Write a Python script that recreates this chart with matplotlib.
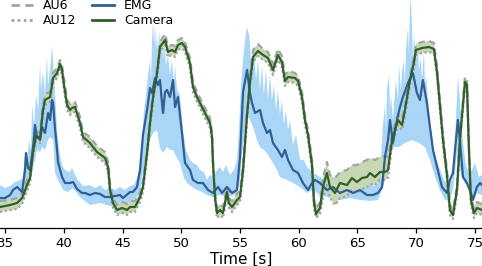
import numpy as np
import matplotlib
matplotlib.use("Agg")
import matplotlib.pyplot as plt
from matplotlib.lines import Line2D

# ---------------- data (time in s, signal in arbitrary units) ----------------
cam_t = [34.57, 35.43, 36.02, 36.45, 36.87, 37.13, 37.38, 37.64, 37.98, 38.23,
         38.40, 38.83, 39.09, 39.43, 39.68, 39.85, 40.02, 40.28, 40.53, 40.70,
         40.96, 41.38, 41.64, 42.23, 42.83, 43.51, 43.77, 43.94, 44.19, 44.53,
         44.96, 45.38, 45.64, 46.06, 46.49, 46.74, 47.09, 47.34, 47.60, 47.94,
         48.19, 48.62, 48.87, 49.21, 49.47, 49.72, 50.06, 50.32, 50.74, 51.00,
         51.34, 51.77, 52.19, 52.45, 52.62, 52.70, 52.87, 53.04, 53.30, 53.55,
         53.72, 53.89, 54.06, 54.32, 54.74, 55.00, 55.26, 55.60, 55.85, 56.11,
         56.53, 56.96, 57.38, 57.81, 58.23, 58.57, 58.83, 59.09, 59.68, 59.94,
         60.28, 60.53, 60.79, 61.13, 61.30, 61.47, 61.81, 62.06, 62.40, 62.66,
         63.09, 63.51, 64.11, 64.53, 64.96, 65.38, 65.81, 66.06, 66.49, 66.91,
         67.34, 67.60, 67.94, 68.19, 68.45, 68.79, 69.04, 69.47, 69.81, 69.98,
         70.49, 71.09, 71.51, 71.77, 72.02, 72.28, 72.62, 72.87, 73.13, 73.47,
         73.72, 74.15, 74.32, 74.49, 74.66, 74.91, 75.17, 75.60]
camera = [0.13, 0.15, 0.17, 0.22, 0.35, 0.42, 0.68, 0.84, 0.82, 1.10,
          1.20, 1.23, 1.42, 1.47, 1.56, 1.50, 1.35, 1.15, 1.10, 1.12,
          1.13, 0.97, 0.83, 0.77, 0.68, 0.62, 0.53, 0.30, 0.17, 0.10,
          0.12, 0.10, 0.13, 0.13, 0.23, 0.33, 0.67, 0.97, 1.23, 1.47,
          1.73, 1.80, 1.68, 1.70, 1.68, 1.75, 1.77, 1.73, 1.57, 1.33,
          1.23, 1.13, 1.03, 0.97, 0.83, 0.57, 0.23, 0.07, 0.10, 0.07,
          0.17, 0.28, 0.17, 0.13, 0.20, 0.23, 0.50, 1.05, 1.38, 1.63,
          1.69, 1.65, 1.62, 1.50, 1.65, 1.58, 1.39, 1.43, 1.42, 1.39,
          1.23, 1.00, 0.85, 0.55, 0.17, 0.06, 0.12, 0.33, 0.47, 0.33,
          0.27, 0.37, 0.35, 0.42, 0.38, 0.42, 0.43, 0.47, 0.43, 0.48,
          0.48, 0.50, 0.80, 0.90, 1.00, 0.95, 1.10, 1.40, 1.58, 1.70,
          1.72, 1.73, 1.71, 1.48, 1.15, 0.80, 0.45, 0.10, 0.05, 0.30,
          0.80, 1.38, 1.35, 0.70, 0.20, 0.07, 0.12, 0.10]
au6 = [0.19, 0.20, 0.22, 0.27, 0.40, 0.48, 0.73, 0.89, 0.87, 1.15,
       1.26, 1.28, 1.47, 1.52, 1.60, 1.55, 1.41, 1.20, 1.16, 1.17,
       1.18, 1.03, 0.88, 0.83, 0.74, 0.68, 0.58, 0.36, 0.22, 0.15,
       0.18, 0.16, 0.19, 0.19, 0.28, 0.38, 0.72, 1.02, 1.28, 1.52,
       1.78, 1.86, 1.74, 1.75, 1.74, 1.80, 1.82, 1.78, 1.62, 1.38,
       1.28, 1.18, 1.08, 1.02, 0.88, 0.62, 0.28, 0.12, 0.16, 0.13,
       0.22, 0.33, 0.22, 0.19, 0.26, 0.29, 0.56, 1.10, 1.44, 1.70,
       1.76, 1.71, 1.68, 1.56, 1.71, 1.64, 1.45, 1.49, 1.47, 1.44,
       1.28, 1.05, 0.90, 0.60, 0.22, 0.11, 0.18, 0.42, 0.58, 0.45,
       0.42, 0.48, 0.50, 0.55, 0.55, 0.58, 0.60, 0.62, 0.60, 0.63,
       0.64, 0.63, 0.86, 0.96, 1.05, 1.01, 1.16, 1.45, 1.63, 1.76,
       1.78, 1.79, 1.77, 1.54, 1.20, 0.85, 0.50, 0.15, 0.10, 0.35,
       0.85, 1.43, 1.40, 0.75, 0.25, 0.12, 0.18, 0.16]
au12 = [0.08, 0.10, 0.11, 0.16, 0.29, 0.37, 0.63, 0.79, 0.77, 1.05,
        1.15, 1.18, 1.37, 1.42, 1.51, 1.45, 1.30, 1.10, 1.05, 1.07,
        1.08, 0.92, 0.78, 0.72, 0.63, 0.57, 0.48, 0.25, 0.12, 0.05,
        0.07, 0.05, 0.08, 0.08, 0.18, 0.28, 0.62, 0.92, 1.18, 1.42,
        1.68, 1.75, 1.63, 1.65, 1.63, 1.70, 1.72, 1.68, 1.52, 1.28,
        1.18, 1.08, 0.98, 0.92, 0.78, 0.52, 0.18, 0.02, 0.05, 0.02,
        0.12, 0.23, 0.12, 0.08, 0.15, 0.18, 0.45, 1.00, 1.33, 1.58,
        1.64, 1.60, 1.57, 1.45, 1.60, 1.53, 1.34, 1.38, 1.37, 1.34,
        1.18, 0.95, 0.80, 0.50, 0.12, 0.02, 0.06, 0.22, 0.35, 0.22,
        0.15, 0.22, 0.24, 0.30, 0.27, 0.31, 0.33, 0.36, 0.35, 0.40,
        0.40, 0.42, 0.74, 0.85, 0.95, 0.90, 1.05, 1.35, 1.53, 1.65,
        1.67, 1.68, 1.66, 1.43, 1.10, 0.75, 0.40, 0.05, 0.01, 0.25,
        0.75, 1.33, 1.30, 0.65, 0.15, 0.02, 0.07, 0.05]

emg_t = [34.57, 35.00, 35.43, 35.68, 36.02, 36.28, 36.45, 36.70, 36.79, 36.96,
         37.13, 37.38, 37.55, 37.72, 37.98, 38.15, 38.40, 38.66, 38.83, 39.00,
         39.09, 39.26, 39.43, 39.51, 39.85, 40.11, 40.53, 40.79, 41.13, 41.55,
         41.81, 42.23, 42.66, 43.09, 43.51, 43.94, 44.36, 44.79, 45.04, 45.64,
         45.89, 46.23, 46.49, 46.74, 47.09, 47.34, 47.51, 47.77, 48.02, 48.19,
         48.36, 48.45, 48.62, 48.79, 49.04, 49.30, 49.47, 49.72, 50.06, 50.32,
         50.74, 51.00, 51.43, 51.85, 52.28, 52.70, 53.13, 53.47, 53.89, 54.32,
         54.74, 55.00, 55.17, 55.26, 55.60, 55.85, 56.02, 56.28, 56.70, 56.96,
         57.30, 57.55, 57.81, 58.23, 58.57, 58.83, 59.09, 59.51, 59.94, 60.36,
         60.79, 61.13, 61.38, 61.81, 62.40, 62.91, 63.51, 64.11, 64.62, 65.21,
         65.81, 66.32, 66.74, 67.09, 67.34, 67.60, 67.77, 68.02, 68.36, 68.62,
         68.87, 69.30, 69.72, 70.06, 70.32, 70.57, 70.91, 71.17, 71.43, 71.77,
         72.19, 72.62, 72.87, 73.13, 73.30, 73.47, 73.55, 73.72, 73.98, 74.32,
         74.57, 74.83, 75.17, 75.43, 75.60]
emg = [0.22, 0.22, 0.25, 0.30, 0.33, 0.30, 0.28, 0.50, 0.67, 0.52,
       0.50, 0.72, 0.95, 0.83, 0.80, 0.93, 0.87, 1.07, 1.00, 1.20,
       1.17, 0.90, 0.70, 0.58, 0.43, 0.37, 0.37, 0.38, 0.31, 0.27,
       0.27, 0.25, 0.27, 0.26, 0.23, 0.23, 0.24, 0.25, 0.22, 0.28,
       0.28, 0.33, 0.50, 0.85, 1.10, 1.32, 1.27, 1.42, 1.35, 1.40,
       1.17, 1.07, 1.28, 1.30, 1.23, 1.40, 1.13, 1.23, 0.87, 0.57,
       0.50, 0.40, 0.37, 0.37, 0.30, 0.27, 0.33, 0.27, 0.33, 0.27,
       0.30, 0.63, 1.05, 1.28, 1.50, 1.27, 1.17, 1.07, 1.10, 0.97,
       0.87, 0.90, 0.77, 0.70, 0.63, 0.70, 0.60, 0.50, 0.47, 0.37,
       0.30, 0.37, 0.40, 0.37, 0.30, 0.33, 0.27, 0.30, 0.27, 0.30,
       0.25, 0.25, 0.27, 0.33, 0.63, 0.80, 1.00, 0.77, 1.00, 1.13,
       1.23, 1.37, 1.47, 1.27, 1.20, 1.40, 1.17, 0.93, 0.70, 0.53,
       0.33, 0.27, 0.40, 0.47, 0.70, 0.90, 1.00, 0.80, 0.43, 0.37,
       0.30, 0.20, 0.33, 0.37, 0.35]

emg_hi_t = [34.57, 35.00, 35.43, 35.85, 36.28,
            36.53, 36.70, 36.87, 37.04, 37.21, 37.30, 37.47, 37.64, 37.81, 37.98,
            38.06, 38.23, 38.40, 38.57, 38.66, 38.83, 39.00, 39.17, 39.26, 39.43,
            39.60,
            39.85, 40.11, 40.53, 40.70, 40.96, 41.21, 41.64, 42.23, 42.66, 43.09,
            43.51, 43.94, 44.36, 44.79, 45.21, 45.64, 45.98, 46.23, 46.49, 46.66,
            46.83, 47.00, 47.17, 47.34, 47.43, 47.51, 47.60, 47.68, 47.77, 47.85,
            47.94, 48.02, 48.11, 48.19, 48.36, 48.45, 48.53, 48.70, 48.87, 49.04,
            49.21, 49.38, 49.47, 49.64, 49.89, 50.15,
            50.40, 50.74, 51.00, 51.34, 51.60, 51.94, 52.19, 52.45, 52.70, 53.04,
            53.30, 53.55, 53.81, 54.15, 54.49, 54.74, 54.91, 55.09, 55.26, 55.43,
            55.60, 55.77,
            55.85, 56.02, 56.19, 56.36, 56.53, 56.70, 56.87, 57.04, 57.21, 57.38,
            57.55, 57.72, 57.89, 58.06, 58.23, 58.40, 58.57, 58.74, 58.91, 59.09,
            59.26, 59.51, 59.77, 60.11,
            60.45, 60.70, 60.96, 61.21, 61.55, 61.81, 62.23, 62.66, 63.09, 63.51,
            63.94, 64.36, 64.79, 65.21, 65.64, 66.06, 66.49, 66.74,
            67.00, 67.17, 67.34, 67.43, 67.51, 67.68, 67.77, 67.85, 68.02, 68.11,
            68.28, 68.45, 68.53, 68.70, 68.79, 68.96, 69.04, 69.13, 69.30, 69.38,
            69.47, 69.55, 69.64, 69.72, 69.81, 69.98, 70.15, 70.23, 70.40, 70.49,
            70.66, 70.74, 70.83, 71.00, 71.17, 71.34,
            71.60, 71.94, 72.36, 72.79, 73.04, 73.21, 73.38, 73.55, 73.72, 73.89,
            74.06, 74.23, 74.49, 74.74, 75.00, 75.17, 75.34, 75.60]
emg_hi = [0.35, 0.32, 0.34, 0.38, 0.40,
          0.42, 0.70, 0.55, 0.80, 0.70, 1.15, 0.95, 1.25, 1.10, 1.55,
          1.30, 1.48, 1.25, 1.63, 1.35, 1.50, 1.74, 1.45, 1.25, 0.90,
          0.70,
          0.55, 0.50, 0.48, 0.52, 0.45, 0.40, 0.34, 0.35, 0.32, 0.35,
          0.30, 0.32, 0.30, 0.33, 0.30, 0.34, 0.35, 0.42, 0.55, 0.80,
          1.10, 1.25, 1.45, 1.60, 1.40, 1.80, 1.98, 1.75, 1.95, 1.70,
          1.85, 1.65, 1.90, 1.75, 1.85, 1.60, 1.80, 1.55, 1.65, 1.45,
          1.60, 1.35, 1.55, 1.30, 1.25, 0.90,
          0.70, 0.60, 0.57, 0.55, 0.50, 0.48, 0.40, 0.45, 0.42, 0.50,
          0.53, 0.48, 0.55, 0.45, 0.50, 0.60, 0.90, 1.35, 1.60, 1.80,
          1.93, 1.85,
          1.75, 1.45, 1.70, 1.40, 1.60, 1.30, 1.55, 1.25, 1.50, 1.20,
          1.45, 1.20, 1.35, 1.10, 1.30, 1.05, 1.20, 0.95, 1.10, 0.90,
          1.00, 0.75, 0.85, 0.60,
          0.60, 0.53, 0.50, 0.47, 0.45, 0.43, 0.40, 0.38, 0.40, 0.37,
          0.40, 0.37, 0.39, 0.37, 0.35, 0.36, 0.34, 0.37,
          0.60, 0.95, 1.15, 0.90, 1.30, 1.45, 1.10, 1.25, 1.00, 1.15,
          1.40, 1.20, 1.55, 1.30, 1.48, 1.60, 1.35, 1.70, 1.92, 1.65,
          2.15, 2.20, 1.95, 1.60, 1.85, 1.60, 1.75, 1.50, 1.62, 1.40,
          1.70, 1.35, 1.45, 1.20, 0.95, 0.73,
          0.65, 0.53, 0.40, 0.33, 0.40, 0.50, 1.00, 1.43, 1.20, 0.90,
          0.70, 0.55, 0.47, 0.50, 0.57, 0.50, 0.43, 0.45]

emg_lo_t = [34.57, 35.43, 36.11, 36.45, 36.70, 36.96, 37.13, 37.38, 37.55, 37.72,
            37.98, 38.15, 38.40, 38.66, 38.83, 39.09, 39.26, 39.51, 39.94, 40.36,
            40.79, 41.38, 42.23, 43.09, 43.94, 44.79, 45.21, 45.89, 46.23, 46.49,
            46.74, 47.09, 47.34, 47.60, 47.94, 48.19, 48.45, 48.79, 49.04, 49.30,
            49.64, 49.89, 50.23, 50.49, 50.91, 51.34, 51.77, 52.19, 52.70, 53.30,
            53.89, 54.32, 54.74, 55.00, 55.17, 55.43, 55.60, 55.85, 56.11, 56.45,
            56.70, 57.04, 57.30, 57.55, 57.81, 58.15, 58.40, 59.00, 59.51, 60.11,
            60.70, 61.21, 61.81, 62.66, 63.51, 64.36, 65.21, 66.06, 66.74, 67.09,
            67.34, 67.68, 67.94, 68.11, 68.53, 69.04, 69.64, 70.23, 70.74, 71.17,
            71.60, 72.02, 72.45, 72.87, 73.13, 73.47, 73.72, 73.89, 74.32, 74.74,
            75.17, 75.60]
emg_lo = [0.13, 0.14, 0.20, 0.18, 0.30, 0.35, 0.40, 0.53, 0.60, 0.70,
          0.68, 0.73, 0.70, 0.80, 0.83, 0.80, 0.47, 0.40, 0.30, 0.28,
          0.32, 0.23, 0.15, 0.17, 0.14, 0.15, 0.13, 0.20, 0.23, 0.30,
          0.47, 0.67, 0.80, 0.87, 0.90, 0.72, 0.67, 0.73, 0.70, 0.70,
          0.62, 0.57, 0.42, 0.37, 0.33, 0.30, 0.28, 0.25, 0.23, 0.25,
          0.23, 0.24, 0.27, 0.40, 0.67, 0.90, 1.07, 1.00, 0.93, 0.80,
          0.73, 0.70, 0.67, 0.62, 0.57, 0.50, 0.43, 0.40, 0.37, 0.33,
          0.27, 0.30, 0.25, 0.22, 0.20, 0.22, 0.20, 0.19, 0.20, 0.30,
          0.40, 0.63, 0.70, 0.73, 0.73, 0.77, 0.80, 0.77, 0.73, 0.60,
          0.43, 0.30, 0.20, 0.20, 0.30, 0.67, 0.50, 0.43, 0.33, 0.20,
          0.27, 0.25]

x_ticks = [35, 40, 45, 50, 55, 60, 65, 70, 75]
legend_labels = ["AU6", "AU12", "EMG", "Camera"]

# ---------------- styles ----------------
C_EMG = "#2f5f93"
C_EMG_BAND = "#a9d5f7"
C_CAM = "#2f5f2b"
C_CAM_BAND = "#c6d7b3"
C_AU = "#a3a3a3"

fig = plt.figure(figsize=(4.82, 2.66), dpi=100)
ax = fig.add_axes([0.0, 38 / 266, 1.0, 228 / 266])

ax.fill(np.concatenate([emg_hi_t, emg_lo_t[::-1]]),
        np.concatenate([emg_hi, emg_lo[::-1]]),
        color=C_EMG_BAND, lw=0, zorder=1)
ax.fill(np.concatenate([cam_t, cam_t[::-1]]),
        np.concatenate([au6, au12[::-1]]),
        color=C_CAM_BAND, lw=0, zorder=2)
ax.plot(cam_t, au6, color=C_AU, lw=1.6, ls=(0, (3, 2)), zorder=3)
ax.plot(cam_t, au12, color=C_AU, lw=1.6, ls=(0, (1, 1.2)), zorder=3)
ax.plot(emg_t, emg, color=C_EMG, lw=1.6, zorder=4)
ax.plot(cam_t, camera, color=C_CAM, lw=1.6, zorder=5)

ax.set_xlim(34.57, 75.6)
ax.set_ylim(-0.08, 2.2)
for s in ("top", "right", "left"):
    ax.spines[s].set_visible(False)
ax.spines["bottom"].set_linewidth(0.9)
ax.set_yticks([])
ax.set_xticks(x_ticks)
ax.set_xticklabels([str(v) for v in x_ticks])
ax.tick_params(axis="x", labelsize=9.5, length=3.5, width=0.9, pad=3)
ax.set_xlabel("Time [s]", fontsize=11, labelpad=1)

handles = [Line2D([], [], color=C_AU, lw=2, ls=(0, (3, 2))),
           Line2D([], [], color=C_AU, lw=2, ls=(0, (1, 1.2))),
           Line2D([], [], color=C_EMG, lw=2),
           Line2D([], [], color=C_CAM, lw=2)]
fig.legend(handles, legend_labels, loc="upper left",
           bbox_to_anchor=(0.012, 1.022), ncol=2, frameon=False, fontsize=9,
           handlelength=1.8, handletextpad=0.8, columnspacing=1.2,
           labelspacing=0.15, borderaxespad=0)

fig.savefig("out.png", dpi=100)
